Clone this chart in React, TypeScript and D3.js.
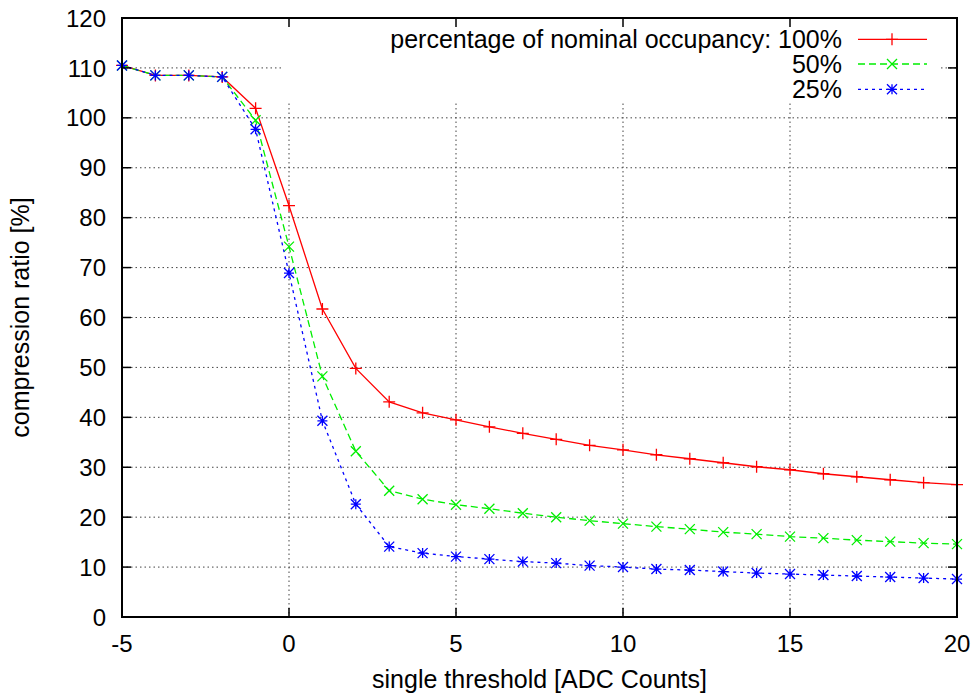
import { useEffect, useRef } from 'react';
import * as d3 from 'd3';

// threshold values on the x axis
const thresholds = [-5, -4, -3, -2, -1, 0, 1, 2, 3, 4, 5, 6, 7, 8, 9, 10, 11, 12, 13, 14, 15, 16, 17, 18, 19, 20];

// compression ratio [%] per occupancy
const occ100 = [110.5, 108.5, 108.5, 108.2, 101.9, 82.4, 61.7, 49.8, 43.1, 40.9, 39.5, 38.1, 36.8, 35.6, 34.4, 33.5, 32.5, 31.7, 30.9, 30.1, 29.5, 28.7, 28.1, 27.5, 26.9, 26.5];
const occ50 = [110.5, 108.5, 108.5, 108.2, 99.5, 74.2, 48.2, 33.2, 25.3, 23.6, 22.5, 21.7, 20.8, 20.0, 19.3, 18.7, 18.1, 17.6, 17.0, 16.6, 16.1, 15.8, 15.4, 15.1, 14.8, 14.6];
const occ25 = [110.5, 108.5, 108.5, 108.2, 97.7, 68.9, 39.3, 22.6, 14.1, 12.8, 12.1, 11.6, 11.1, 10.8, 10.3, 10.0, 9.6, 9.4, 9.1, 8.8, 8.6, 8.4, 8.2, 8.0, 7.8, 7.6];

const xTicks = [-5, 0, 5, 10, 15, 20];
const yTicks = [0, 10, 20, 30, 40, 50, 60, 70, 80, 90, 100, 110, 120];

const legendLabels = ['percentage of nominal occupancy: 100%', '50%', '25%'];

type Series = { values: number[]; color: string; dash: string | null; marker: 'plus' | 'cross' | 'star' };

const series: Series[] = [
  { values: occ100, color: '#ff0000', dash: null, marker: 'plus' },
  { values: occ50, color: '#00ee00', dash: '7,4', marker: 'cross' },
  { values: occ25, color: '#0000ff', dash: '3,4', marker: 'star' },
];

const FONT = '"Liberation Sans", Arial, Helvetica, sans-serif';

function markerPath(kind: string, s: number) {
  const plus = `M${-s},0L${s},0M0,${-s}L0,${s}`;
  const cross = `M${-s},${-s}L${s},${s}M${-s},${s}L${s},${-s}`;
  if (kind === 'plus') return plus;
  if (kind === 'cross') return cross;
  return plus + cross;
}

export default function App() {
  const svgRef = useRef<SVGSVGElement | null>(null);

  useEffect(() => {
    document.body.style.margin = '0';
    if (!svgRef.current) return;
    const width = 979;
    const height = 698;
    const left = 122, right = 957, top = 18, bottom = 617;

    const svg = d3.select(svgRef.current).attr('width', width).attr('height', height);
    svg.selectAll('*').remove();
    svg.append('rect').attr('width', width).attr('height', height).attr('fill', '#fff');

    const x = d3.scaleLinear().domain([-5, 20]).range([left, right]);
    const y = d3.scaleLinear().domain([0, 120]).range([bottom, top]);

    // Grid
    const grid = svg.append('g').attr('stroke', '#444').attr('stroke-width', 1).attr('stroke-dasharray', '1.5,3');
    grid
      .selectAll('.gy')
      .data(yTicks.filter((d) => d > 0 && d < 120))
      .enter()
      .append('line')
      .attr('x1', left)
      .attr('x2', right)
      .attr('y1', (d) => y(d))
      .attr('y2', (d) => y(d));
    grid
      .selectAll('.gx')
      .data(xTicks.filter((d) => d > -5 && d < 20))
      .enter()
      .append('line')
      .attr('x1', (d) => x(d))
      .attr('x2', (d) => x(d))
      .attr('y1', top)
      .attr('y2', bottom);

    // Opaque key area
    svg.append('rect').attr('x', 283).attr('y', top).attr('width', 941 - 283).attr('height', 103 - top).attr('fill', '#fff');

    // Lines and points
    const line = d3
      .line<number>()
      .x((_, i) => x(thresholds[i]))
      .y((d) => y(d));

    series.forEach((s) => {
      svg
        .append('path')
        .datum(s.values)
        .attr('fill', 'none')
        .attr('stroke', s.color)
        .attr('stroke-width', 1.3)
        .attr('stroke-dasharray', s.dash)
        .attr('d', line);
      svg
        .append('g')
        .selectAll('path')
        .data(s.values)
        .enter()
        .append('path')
        .attr('transform', (d, i) => `translate(${x(thresholds[i])},${y(d)})`)
        .attr('d', markerPath(s.marker, s.marker === 'plus' ? 6 : 5))
        .attr('fill', 'none')
        .attr('stroke', s.color)
        .attr('stroke-width', 1.3);
    });

    // Border
    svg
      .append('rect')
      .attr('x', left)
      .attr('y', top)
      .attr('width', right - left)
      .attr('height', bottom - top)
      .attr('fill', 'none')
      .attr('stroke', '#000')
      .attr('stroke-width', 2);

    // Ticks (inward, mirrored)
    const tl = 9;
    const ticks = svg.append('g').attr('stroke', '#000').attr('stroke-width', 1.5);
    yTicks.forEach((d) => {
      ticks.append('line').attr('x1', left).attr('x2', left + tl).attr('y1', y(d)).attr('y2', y(d));
      ticks.append('line').attr('x1', right).attr('x2', right - tl).attr('y1', y(d)).attr('y2', y(d));
    });
    xTicks.forEach((d) => {
      ticks.append('line').attr('x1', x(d)).attr('x2', x(d)).attr('y1', bottom).attr('y2', bottom - tl);
      ticks.append('line').attr('x1', x(d)).attr('x2', x(d)).attr('y1', top).attr('y2', top + tl);
    });

    // Tick labels
    const txt = svg.append('g').attr('font-family', FONT).attr('font-size', 24).attr('fill', '#000');
    yTicks.forEach((d) => {
      txt.append('text').attr('x', 106).attr('y', y(d) + 8.6).attr('text-anchor', 'end').text(d);
    });
    xTicks.forEach((d) => {
      txt.append('text').attr('x', x(d)).attr('y', 652).attr('text-anchor', 'middle').text(d);
    });

    // Axis titles
    txt
      .append('text')
      .attr('x', (left + right) / 2)
      .attr('y', 688)
      .attr('font-size', 25)
      .attr('text-anchor', 'middle')
      .text('single threshold [ADC Counts]');
    txt
      .append('text')
      .attr('transform', `translate(29,${(top + bottom) / 2}) rotate(-90)`)
      .attr('font-size', 25)
      .attr('text-anchor', 'middle')
      .text('compression ratio [%]');

    // Legend
    const rowY = [39.3, 64, 89.3];
    series.forEach((s, i) => {
      txt
        .append('text')
        .attr('x', 842)
        .attr('y', rowY[i] + 8.8)
        .attr('font-size', 25)
        .attr('text-anchor', 'end')
        .text(legendLabels[i]);
      svg
        .append('line')
        .attr('x1', 858)
        .attr('x2', 927)
        .attr('y1', rowY[i])
        .attr('y2', rowY[i])
        .attr('stroke', s.color)
        .attr('stroke-width', 1.3)
        .attr('stroke-dasharray', s.dash);
      svg
        .append('path')
        .attr('transform', `translate(892,${rowY[i]})`)
        .attr('d', markerPath(s.marker, s.marker === 'plus' ? 6 : 5))
        .attr('fill', 'none')
        .attr('stroke', s.color)
        .attr('stroke-width', 1.3);
    });
  }, []);

  return (
    <div>
      <svg ref={svgRef}></svg>
    </div>
  );
}
